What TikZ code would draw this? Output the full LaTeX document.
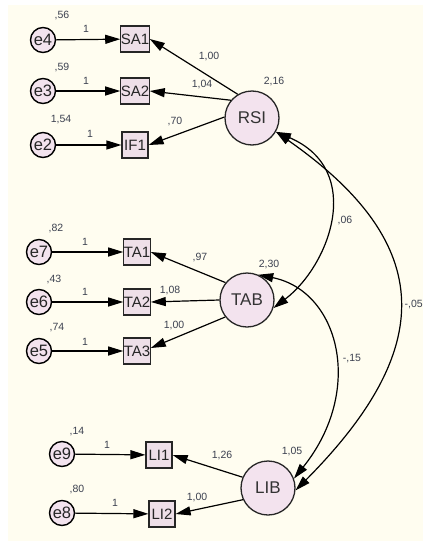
\documentclass[tikz,border=0pt]{standalone}
\usepackage{fontspec}
\setmainfont{Liberation Sans}
\usetikzlibrary{arrows.meta}
\definecolor{bg}{HTML}{FFFDF0}
\definecolor{nodefill}{HTML}{F3E3EE}
\definecolor{boxfill}{HTML}{EEDFE8}
\definecolor{lab}{HTML}{3C4150}
\begin{document}
\begin{tikzpicture}[x=1pt,y=-1pt,
 err/.style={circle,draw=black,line width=1.4pt,fill=nodefill,minimum size=25pt,inner sep=0pt,font=\fontsize{16.5}{16.5}\selectfont,text=black!85},
 obs/.style={rectangle,draw=black!85,line width=1.2pt,fill=boxfill,minimum size=26pt,inner sep=0pt,font=\fontsize{15}{15}\selectfont,text=black!85},
 lat/.style={circle,draw=black!85,line width=1.3pt,fill=nodefill,minimum size=54pt,inner sep=0pt,font=\fontsize{17}{17}\selectfont,text=black!80},
 lbl/.style={font=\fontsize{10.5}{11}\selectfont,text=lab,inner sep=0pt},
 arr/.style={line width=1.2pt,-{Triangle[length=15pt,width=9pt]}},
 dbl/.style={line width=1.2pt,{Triangle[length=15pt,width=9pt]}-{Triangle[length=15pt,width=9pt]}},
]
\useasboundingbox (0,0) rectangle (423,541);
\fill[white] (0,0) rectangle (423,541);
\fill[bg] (8,5) rectangle (423,541);

% RSI block
\node[err] (e4) at (43,40) {e4};
\node[err] (e3) at (43,91) {e3};
\node[err] (e2) at (43,145) {e2};
\node[obs] (SA1) at (135,39) {SA1};
\node[obs] (SA2) at (135,91) {SA2};
\node[obs] (IF1) at (135,145) {IF1};
\node[lat] (RSI) at (252,118) {RSI};

% TAB block
\node[err] (e7) at (39,252) {e7};
\node[err] (e6) at (39,302) {e6};
\node[err] (e5) at (39,351) {e5};
\node[obs] (TA1) at (137,252) {TA1};
\node[obs] (TA2) at (137,302) {TA2};
\node[obs] (TA3) at (137,351) {TA3};
\node[lat] (TAB) at (247,300) {TAB};

% LIB block
\node[err] (e9) at (62,454) {e9};
\node[err] (e8) at (62,513) {e8};
\node[obs] (LI1) at (159,455) {LI1};
\node[obs] (LI2) at (162,514) {LI2};
\node[lat] (LIB) at (268,488) {LIB};

% error arrows
\draw[arr] (e4) -- (SA1);
\draw[arr] (e3) -- (SA2);
\draw[arr] (e2) -- (IF1);
\draw[arr] (e7) -- (TA1);
\draw[arr] (e6) -- (TA2);
\draw[arr] (e5) -- (TA3);
\draw[arr] (e9) -- (LI1);
\draw[arr] (e8) -- (LI2);

% loadings
\draw[arr] (RSI.121) -- (SA1.east);
\draw[arr] (RSI.140) -- (SA2.east);
\draw[arr] (RSI.178) -- (IF1.east);
\draw[arr] (TAB.141) -- (TA1.east);
\draw[arr] (TAB.west) -- (TA2.east);
\draw[arr] (TAB.218) -- ([yshift=3pt]TA3.east);
\draw[arr] (LIB.157) -- (LI1.east);
\draw[arr] (LIB.205) -- (LI2.east);

% covariances
\draw[dbl] (RSI.-30) .. controls (365,170) and (330,265) .. (TAB.-17);
\draw[dbl] (RSI.-30) .. controls (438,245) and (435,350) .. (LIB.-5);
\draw[dbl] (TAB.66) .. controls (339,291) and (365,390) .. (LIB.20);

% labels
\node[lbl] (l56) at (62,16) {,56};
\node[lbl] (l1a) at (86,29) {1};
\node[lbl] (l59) at (62,68) {,59};
\node[lbl] (l1b) at (86,81) {1};
\node[lbl] (l154) at (61,120) {1,54};
\node[lbl] (l1c) at (90,134) {1};
\node[lbl] (l100a) at (209,57) {1,00};
\node[lbl] (l104) at (202,85) {1,04};
\node[lbl] (l70) at (175,122) {,70};
\node[lbl] (l216) at (274,82) {2,16};
\node[lbl] (l06) at (345,221) {,06};
\node[lbl] (l82) at (56,229) {,82};
\node[lbl] (l1d) at (85,242) {1};
\node[lbl] (l43) at (54,280) {,43};
\node[lbl] (l1e) at (85,292) {1};
\node[lbl] (l74) at (57,328) {,74};
\node[lbl] (l1f) at (85,342) {1};
\node[lbl] (l97) at (200,258) {,97};
\node[lbl] (l108) at (170,291) {1,08};
\node[lbl] (l100b) at (174,326) {1,00};
\node[lbl] (l230) at (269,265) {2,30};
\node[lbl] (l15) at (352,359) {-,15};
\node[lbl,anchor=east] (l05) at (423,305) {-,05};
\node[lbl] (l14) at (77,432) {,14};
\node[lbl] (l1g) at (107,445) {1};
\node[lbl] (l80) at (77,489) {,80};
\node[lbl] (l1h) at (115,503) {1};
\node[lbl] (l126) at (222,455) {1,26};
\node[lbl] (l100c) at (197,497) {1,00};
\node[lbl] (l105) at (292,452) {1,05};
\end{tikzpicture}
\end{document}
